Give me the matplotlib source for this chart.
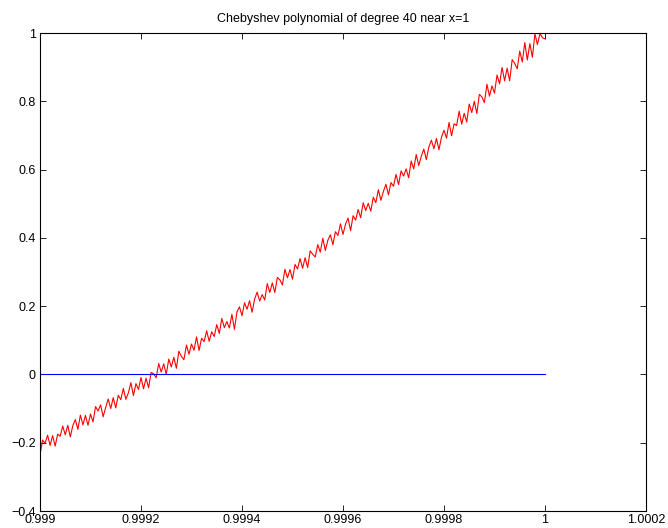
#!/usr/bin/env python3
"""Chebyshev polynomial of degree 40 evaluated near x=1 (rounding noise visible)."""

import numpy as np
import matplotlib
matplotlib.use("Agg")
import matplotlib.pyplot as plt
from matplotlib.ticker import FuncFormatter

plt.rcParams["font.family"] = ["Liberation Sans", "DejaVu Sans"]

# sample grid: 0.999 .. 1.0 in steps of 5e-6
x_start = 0.999
x_step = 5e-6

# T40 values (thousandths), one row per 5e-5 of x
t40_milli = [
    -237, -192, -202, -178, -208, -179, -210, -175, -181, -151,
    -177, -149, -183, -150, -132, -161, -119, -148, -120, -149,
    -116, -139, -94, -107, -89, -124, -97, -72, -100, -68,
    -98, -61, -74, -41, -73, -54, -24, -62, -27, -44,
    -9, -42, -11, -39, 6, 2, -10, 32, 7, 31,
    0, 45, 22, 50, 18, 68, 53, 43, 86, 59,
    89, 71, 110, 70, 106, 96, 128, 97, 125, 111,
    146, 120, 164, 137, 155, 136, 176, 132, 183, 198,
    172, 210, 191, 216, 182, 221, 241, 215, 234, 218,
    266, 240, 268, 240, 284, 277, 262, 308, 283, 307,
    279, 322, 309, 339, 311, 342, 313, 362, 352, 344,
    380, 358, 399, 363, 393, 409, 380, 418, 407, 441,
    410, 440, 458, 421, 465, 452, 483, 459, 503, 480,
    501, 478, 519, 503, 541, 510, 536, 557, 526, 562,
    551, 586, 556, 596, 581, 602, 576, 625, 602, 644,
    612, 639, 660, 629, 666, 686, 661, 691, 658, 695,
    715, 692, 738, 699, 734, 729, 771, 733, 765, 739,
    792, 767, 800, 764, 820, 813, 796, 850, 815, 845,
    824, 877, 851, 899, 860, 897, 860, 922, 911, 895,
    947, 915, 972, 921, 969, 929, 998, 966, 999, 986,
    983,
]

zero_line_x = [0.999, 1.0]
zero_line_y = [0.0, 0.0]

x_ticks = [0.999, 0.9992, 0.9994, 0.9996, 0.9998, 1.0, 1.0002]
y_ticks = [-0.4, -0.2, 0, 0.2, 0.4, 0.6, 0.8, 1]


def fmt(v, _pos):
    return "{:g}".format(round(v, 6)).replace("-", "\u2212")


def main():
    y = np.array(t40_milli) / 1000.0
    x = x_start + x_step * np.arange(len(y))

    fig = plt.figure(figsize=(6.68, 5.28), dpi=100)
    ax = fig.add_axes([40 / 668, 17 / 528, 606 / 668, 478 / 528])

    ax.plot(x, y, color="#ff0000", linewidth=0.8)
    ax.plot(zero_line_x, zero_line_y, color="#0000ff", linewidth=0.8)

    ax.set_xlim(0.999, 1.0002)
    ax.set_ylim(-0.4, 1)
    ax.set_xticks(x_ticks)
    ax.set_yticks(y_ticks)
    ax.xaxis.set_major_formatter(FuncFormatter(fmt))
    ax.yaxis.set_major_formatter(FuncFormatter(fmt))
    ax.tick_params(direction="in", top=True, right=True, length=4,
                   width=0.6, labelsize=9, pad=3)
    ax.tick_params(axis="x", pad=2)
    for spine in ax.spines.values():
        spine.set_linewidth(0.8)

    ax.set_title("Chebyshev polynomial of degree 40 near x=1", fontsize=9, pad=8)

    fig.savefig("out.png", dpi=100)
    plt.close(fig)


if __name__ == "__main__":
    main()
